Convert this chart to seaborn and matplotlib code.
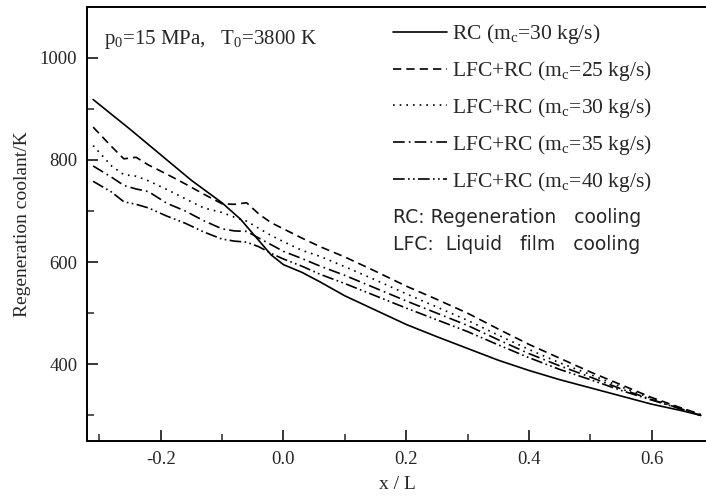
import numpy as np
import pandas as pd
import matplotlib
matplotlib.use("Agg")
import matplotlib.pyplot as plt
from matplotlib.lines import Line2D
from matplotlib.ticker import MultipleLocator
import seaborn as sns

# ---- data ----
x_rc = [-0.31, -0.25, -0.20, -0.15, -0.10, -0.07, -0.05, -0.02, 0.00, 0.03, 0.06,
        0.10, 0.15, 0.20, 0.25, 0.30, 0.35, 0.40, 0.45, 0.50, 0.55, 0.60, 0.65, 0.68]
t_rc = [918, 860, 810, 760, 716, 684, 656, 614, 595, 580, 561,
        534, 506, 478, 454, 431, 408, 388, 370, 354, 338, 322, 309, 300]

x_lfc = [-0.31, -0.28, -0.26, -0.24, -0.22, -0.19, -0.16, -0.13, -0.10, -0.08, -0.06,
         -0.04, -0.02, 0.00, 0.03, 0.06, 0.10, 0.15, 0.20, 0.25, 0.30, 0.35, 0.40,
         0.45, 0.50, 0.55, 0.60, 0.65, 0.68]
t_lfc25 = [864, 826, 802, 805, 790, 772, 753, 733, 714, 713, 716,
           694, 677, 665, 647, 630, 610, 582, 553, 527, 500, 469, 439,
           412, 385, 360, 335, 314, 302]
t_lfc30 = [828, 788, 771, 768, 759, 742, 724, 706, 697, 688, 680,
           666, 652, 640, 623, 611, 591, 565, 538, 512, 486, 457, 429,
           403, 380, 356, 333, 313, 301]
t_lfc35 = [788, 766, 750, 743, 738, 715, 700, 681, 665, 661, 660,
           647, 634, 621, 607, 592, 574, 549, 524, 500, 476, 448, 421,
           397, 375, 352, 331, 312, 300]
t_lfc40 = [758, 737, 718, 713, 706, 690, 676, 659, 645, 641, 639,
           630, 617, 606, 592, 576, 558, 534, 510, 487, 464, 438, 413,
           390, 370, 349, 330, 312, 300]

labels = [r"RC (m$_\mathregular{c}$=30 kg/s)",
          r"LFC+RC (m$_\mathregular{c}$=25 kg/s)",
          r"LFC+RC (m$_\mathregular{c}$=30 kg/s)",
          r"LFC+RC (m$_\mathregular{c}$=35 kg/s)",
          r"LFC+RC (m$_\mathregular{c}$=40 kg/s)"]

sns.set_theme(style="ticks")
plt.rcParams['font.family'] = ['Liberation Serif', 'DejaVu Serif']
plt.rcParams['mathtext.fontset'] = 'custom'
plt.rcParams['mathtext.rm'] = 'Liberation Serif'

fig = plt.figure(figsize=(7.06, 4.99), dpi=100)
ax = fig.add_axes([87 / 706, 58 / 499, 620 / 706, 434 / 499])

styles = ['-', (0, (5, 3)), (0, (1, 3)), (0, (7, 2.5, 1, 2.5)), (0, (7, 2, 1, 2, 1, 2))]
series = [(x_rc, t_rc), (x_lfc, t_lfc25), (x_lfc, t_lfc30), (x_lfc, t_lfc35), (x_lfc, t_lfc40)]

for (xs, ys), ls in zip(series, styles):
    df = pd.DataFrame({'x': xs, 'T': ys})
    sns.lineplot(data=df, x='x', y='T', ax=ax, color='black', linewidth=1.2,
                 linestyle=ls, sort=False)

ax.set_xlim(-0.32, 0.69)
ax.set_ylim(250, 1099)
ax.xaxis.set_major_locator(MultipleLocator(0.2))
ax.xaxis.set_minor_locator(MultipleLocator(0.1))
ax.yaxis.set_major_locator(MultipleLocator(200))
ax.yaxis.set_minor_locator(MultipleLocator(100))
ax.set_xticks([-0.2, 0.0, 0.2, 0.4, 0.6])
ax.set_xticklabels(['-0.2', '0.0', '0.2', '0.4', '0.6'])
ax.tick_params(which='major', direction='in', length=8, width=1.3, labelsize=13.5, pad=7,
               top=False, right=False)
ax.tick_params(which='minor', direction='in', length=5, width=1.1, top=False, right=False)
for sp in ax.spines.values():
    sp.set_linewidth(1.4)
    sp.set_color('black')

ax.set_xlabel('x / L', fontsize=14, labelpad=6)
ax.set_ylabel('Regeneration coolant/K', fontsize=14, labelpad=6)

handles = [Line2D([], [], color='black', linewidth=1.2, linestyle=ls) for ls in styles]
ax.legend(handles, labels, loc='upper left', bbox_to_anchor=(0.48, 0.985), frameon=False,
          fontsize=15.5, handlelength=2.5, handletextpad=0.25, labelspacing=0.6,
          borderaxespad=0)

ax.text(0.028, 0.924, r"p$_\mathregular{0}$=15 MPa,   T$_\mathregular{0}$=3800 K",
        transform=ax.transAxes, fontsize=15, ha='left', va='center')
ax.text(0.494, 0.516, "RC: Regeneration   cooling", transform=ax.transAxes,
        fontsize=13.5, family=['DejaVu Sans'], ha='left', va='center')
ax.text(0.494, 0.452, "LFC:  Liquid   film   cooling", transform=ax.transAxes,
        fontsize=13.5, family=['DejaVu Sans'], ha='left', va='center')

fig.savefig('out.png', dpi=100)
